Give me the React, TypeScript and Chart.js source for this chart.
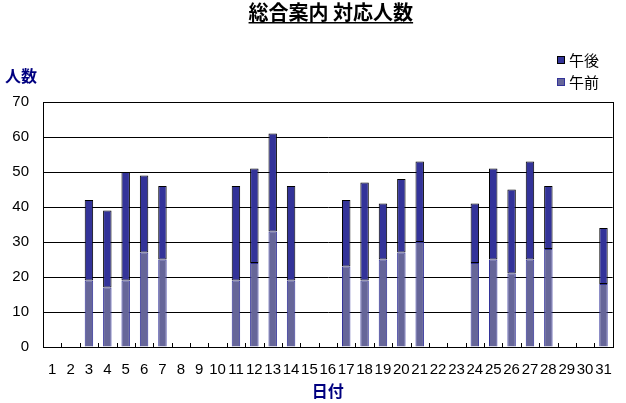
import { useEffect, useRef } from "react";
import { Chart, registerables } from "chart.js";
Chart.register(...registerables);

const days = ["1", "2", "3", "4", "5", "6", "7", "8", "9", "10", "11", "12", "13", "14", "15", "16",
  "17", "18", "19", "20", "21", "22", "23", "24", "25", "26", "27", "28", "29", "30", "31"];
const amCounts = [null, null, 19, 17, 19, 27, 25, null, null, null, 19, 24, 33, 19, null, null,
  23, 19, 25, 27, 30, null, null, 24, 25, 21, 25, 28, null, null, 18];
const pmCounts = [null, null, 23, 22, 31, 22, 21, null, null, null, 27, 27, 28, 27, null, null,
  19, 28, 16, 21, 23, null, null, 17, 26, 24, 28, 18, null, null, 16];
const yTicks = [0, 10, 20, 30, 40, 50, 60, 70];

const chartTitle = "総合案内 対応人数";
const yTitle = "人数";
const xTitle = "日付";
const NAVY = "#000080";
const JP = "'Noto Sans CJK JP', sans-serif";
const NUM = "'Liberation Sans', Arial, sans-serif";

// title, y-axis caption, legend, frame and inward tick marks
const decor = {
  id: "decor",
  afterDraw(chart: any) {
    const { ctx, chartArea: a, scales } = chart;
    ctx.save();
    // title with underline
    ctx.font = `bold 20px ${JP}`;
    ctx.fillStyle = "#000";
    ctx.textAlign = "center";
    ctx.textBaseline = "middle";
    const tx = (a.left + a.right) / 2 + 3;
    ctx.fillText(chartTitle, tx, 12);
    const tw = ctx.measureText(chartTitle).width;
    ctx.fillRect(tx - tw / 2, 22, tw, 1.5);
    // y caption
    ctx.font = `bold 16px ${JP}`;
    ctx.fillStyle = NAVY;
    ctx.textAlign = "left";
    ctx.fillText(yTitle, 5, 76);
    // legend (午後 on top)
    const ds = chart.data.datasets;
    [1, 0].forEach((di, row) => {
      const y = 60 + row * 22;
      ctx.fillStyle = ds[di].backgroundColor;
      ctx.fillRect(557, y - 4, 8, 8);
      ctx.strokeStyle = ds[di].borderColor;
      ctx.lineWidth = 1;
      ctx.strokeRect(557.5, y - 3.5, 7, 7);
      ctx.fillStyle = "#000";
      ctx.font = `15px ${JP}`;
      ctx.fillText(ds[di].label, 569, y);
    });
    // plot frame
    ctx.strokeStyle = "#000";
    ctx.lineWidth = 1;
    ctx.strokeRect(Math.round(a.left) + 0.5, Math.round(a.top) + 0.5,
      Math.round(a.right - a.left), Math.round(a.bottom - a.top));
    // inward tick marks between categories
    const xs = scales.x;
    const half = (xs.getPixelForValue(1) - xs.getPixelForValue(0)) / 2;
    ctx.beginPath();
    for (let i = 0; i < days.length; i++) {
      const px = Math.round(xs.getPixelForValue(i) + half) + 0.5;
      ctx.moveTo(px, a.bottom);
      ctx.lineTo(px, a.bottom - 4);
    }
    ctx.stroke();
    ctx.restore();
  },
};

export default function App() {
  const canvasRef = useRef<HTMLCanvasElement>(null);
  const chartInst = useRef<Chart | null>(null);

  useEffect(() => {
    if (!canvasRef.current) return;
    chartInst.current?.destroy();
    chartInst.current = new Chart(canvasRef.current, {
      type: "bar",
      data: {
        labels: days,
        datasets: [
          {
            label: "午前",
            data: amCounts,
            backgroundColor: "#666699",
            borderColor: "#333399",
            borderWidth: 1,
            borderSkipped: "start",
          },
          {
            label: "午後",
            data: pmCounts,
            backgroundColor: "#333399",
            borderColor: "#000000",
            borderWidth: 1,
            borderSkipped: false,
          },
        ],
      },
      options: {
        responsive: false,
        animation: false,
        layout: { padding: { top: 102, right: 11, left: 0, bottom: 0 } },
        datasets: { bar: { categoryPercentage: 1, barPercentage: 0.46 } },
        plugins: { legend: { display: false }, title: { display: false }, tooltip: { enabled: false } },
        scales: {
          x: {
            stacked: true,
            grid: { display: false, drawTicks: false },
            border: { display: true, color: "#000" },
            ticks: { color: "#000", font: { family: NUM, size: 15 }, autoSkip: false, maxRotation: 0, padding: 14 },
            title: { display: true, text: xTitle, color: NAVY, font: { family: JP, size: 16, weight: "bold" }, padding: { top: 0, bottom: 2 } },
            afterFit: (s: any) => { s.height = 56; },
          },
          y: {
            stacked: true,
            min: 0,
            max: 70,
            afterBuildTicks: (s: any) => { s.ticks = yTicks.map((v) => ({ value: v })); },
            grid: { color: "#000", lineWidth: 1, drawTicks: false },
            border: { display: true, color: "#000" },
            ticks: { color: "#000", font: { family: NUM, size: 15 }, padding: 14 },
            afterFit: (s: any) => { s.width = 43; },
          },
        },
      },
      plugins: [decor],
    });
    return () => chartInst.current?.destroy();
  }, []);

  return (
    <div style={{ position: "fixed", left: 0, top: 0, width: 626, height: 403, background: "#fff" }}>
      <canvas ref={canvasRef} width={626} height={403} />
    </div>
  );
}
